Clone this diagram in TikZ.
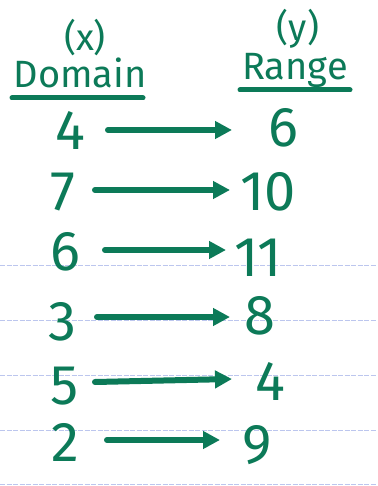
\documentclass[tikz,border=0pt]{standalone}
\usepackage{fontspec}
\setmainfont{Fira Sans}
\usetikzlibrary{arrows.meta}
\definecolor{ink}{RGB}{12,122,88}
\definecolor{rule}{RGB}{188,198,238}
\tikzset{
  digit/.style={text=ink, inner sep=0pt, anchor=center, font=\fontsize{56}{56}\selectfont},
  head/.style={text=ink, inner sep=0pt, anchor=base, font=\fontsize{38}{38}\selectfont},
  paren/.style={text=ink, inner sep=0pt, anchor=center, font=\fontsize{37}{37}\selectfont},
  mapsto/.style={draw=ink, line width=6pt, line cap=round,
    -{Triangle[length=17pt,width=17pt]}},
  underln/.style={draw=ink, line width=5pt, line cap=round},
  ruling/.style={draw=rule, line width=0.7pt, dash pattern=on 5pt off 1.5pt}
}
\begin{document}
\begin{tikzpicture}[x=1pt,y=-1pt]
  % page
  \fill[white] (0,0) rectangle (377,486);
  \useasboundingbox (0,0) rectangle (377,486);
  % ruled lines of the notebook paper
  \foreach \ry in {265,320,375,430,484}
    \draw[ruling] (0,\ry) -- (377,\ry);

  % column headings
  \node[paren] (px) at (85,38) {(x)};
  \node[head] (dom) at (80,88) {Domain};
  \coordinate (du1) at (12,98);
  \coordinate (du2) at (143,98);
  \draw[underln] (du1) -- (du2);
  \node[paren] (py) at (298,29) {(y)};
  \node[head] (rng) at (295,80) {Range};
  \coordinate (ru1) at (240,90);
  \coordinate (ru2) at (350,90);
  \draw[underln] (ru1) -- (ru2);

  % pairs: left x, left y, left text, right x, right y, right text,
  % arrow start x, start y, end x, end y
  \foreach \i/\lx/\ly/\lt/\rx/\ry/\rt/\ax/\ay/\bx/\by in {
      1/70/130/4/283/128/6/108/130/232/130,
      2/63/192/7/268/192/10/95/190/230/190,
      3/65/252/6/258/258/11/105/250/226/250,
      4/62/322/3/260/316/8/97/317/230/317,
      5/65/386/5/270/381/4/95/382/232/379,
      6/65/442/2/257/445/9/107/440/220/440} {
    \node[digit] (l\i) at (\lx,\ly) {\lt};
    \node[digit] (r\i) at (\rx,\ry) {\rt};
    \pgfmathsetmacro{\dxa}{\ax-\lx}
    \pgfmathsetmacro{\dya}{\ay-\ly}
    \pgfmathsetmacro{\dxb}{\bx-\rx}
    \pgfmathsetmacro{\dyb}{\by-\ry}
    \draw[mapsto] ([shift={(\dxa,\dya)}]l\i.center) -- ([shift={(\dxb,\dyb)}]r\i.center);
  }
\end{tikzpicture}
\end{document}
